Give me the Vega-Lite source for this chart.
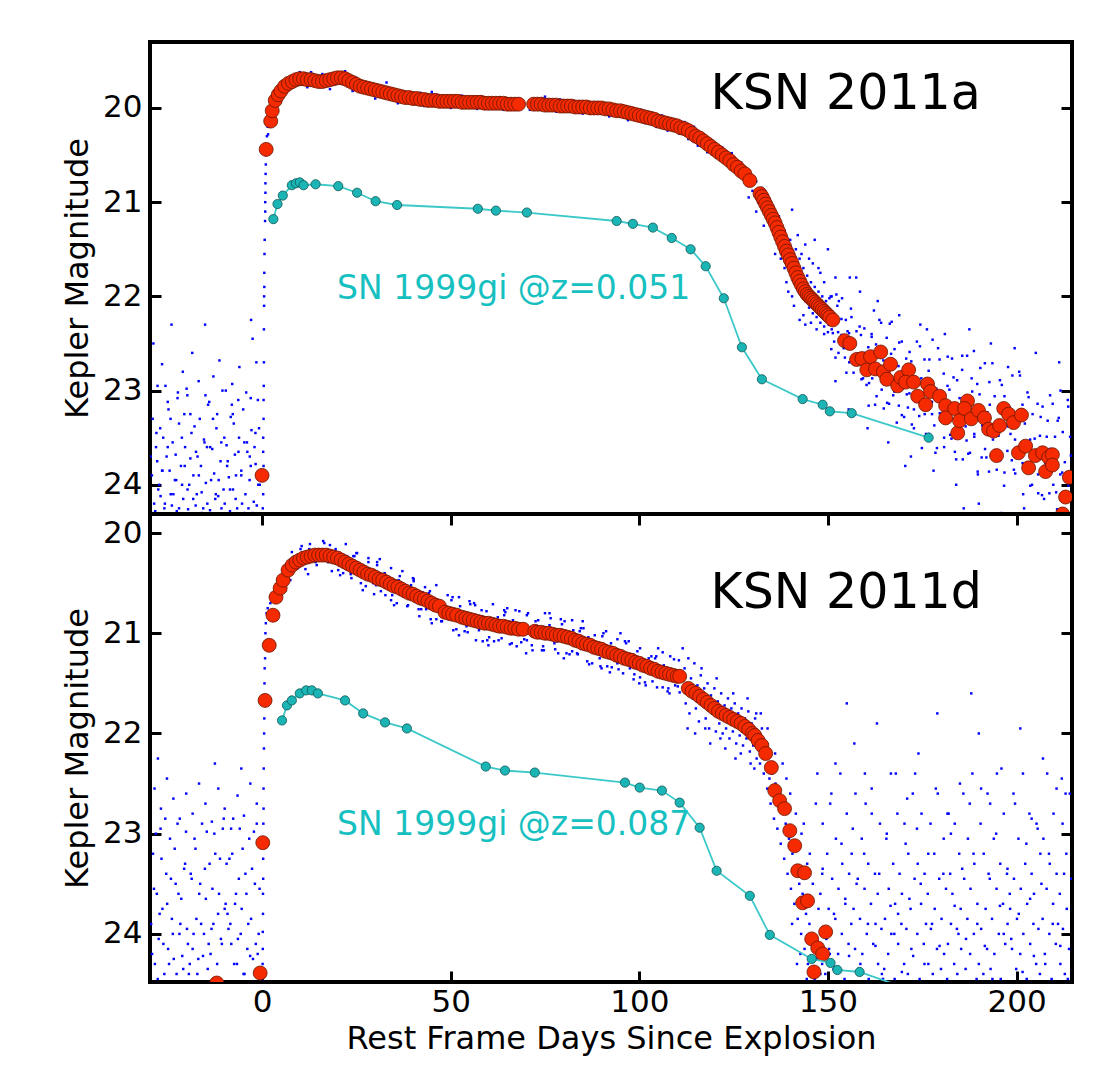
{
"$schema":"https://vega.github.io/schema/vega-lite/v6.json",
"padding":{"left":59,"top":40,"right":0,"bottom":0},
"background":"white",
"spacing":0,
"bounds":"flush",
"config":{"font":"DejaVu Sans","view":{"stroke":"black","strokeWidth":4},
"axis":{"grid":false,"domain":false,"tickColor":"black","tickWidth":3,"labelColor":"black","titleColor":"black","labelFontSize":31,"titleFontSize":32,"titleFontWeight":"normal","zindex":1,"labelFont":"DejaVu Sans","titleFont":"DejaVu Sans"}},
"datasets":{
"a_red":[{"d":0,"m":23.9},{"d":1.1,"m":20.44},{"d":2.3,"m":20.14},{"d":2.7,"m":20.03},{"d":3.5,"m":19.92},{"d":4.3,"m":19.86},{"d":5,"m":19.82},{"d":6,"m":19.77},{"d":7,"m":19.74},{"d":8,"m":19.72},{"d":9,"m":19.7},{"d":10,"m":19.69},{"d":11,"m":19.69},{"d":12,"m":19.7},{"d":13,"m":19.7},{"d":14,"m":19.71},{"d":15,"m":19.72},{"d":16,"m":19.72},{"d":17,"m":19.71},{"d":18,"m":19.7},{"d":19,"m":19.69},{"d":20,"m":19.68},{"d":21,"m":19.68},{"d":22,"m":19.69},{"d":23,"m":19.71},{"d":24,"m":19.73},{"d":25,"m":19.75},{"d":26,"m":19.77},{"d":27,"m":19.78},{"d":28,"m":19.79},{"d":29,"m":19.8},{"d":30,"m":19.81},{"d":31,"m":19.82},{"d":32,"m":19.83},{"d":33,"m":19.84},{"d":34,"m":19.85},{"d":35,"m":19.86},{"d":36,"m":19.87},{"d":37,"m":19.88},{"d":38,"m":19.89},{"d":39,"m":19.89},{"d":40,"m":19.9},{"d":41,"m":19.9},{"d":42,"m":19.91},{"d":43,"m":19.91},{"d":44,"m":19.92},{"d":45,"m":19.92},{"d":46,"m":19.92},{"d":47,"m":19.93},{"d":48,"m":19.93},{"d":49,"m":19.93},{"d":50,"m":19.93},{"d":51,"m":19.93},{"d":52,"m":19.93},{"d":53,"m":19.94},{"d":54,"m":19.94},{"d":55,"m":19.94},{"d":56,"m":19.94},{"d":57,"m":19.94},{"d":58,"m":19.94},{"d":59,"m":19.95},{"d":60,"m":19.95},{"d":61,"m":19.95},{"d":62,"m":19.95},{"d":63,"m":19.95},{"d":64,"m":19.95},{"d":65,"m":19.96},{"d":66,"m":19.96},{"d":67,"m":19.96},{"d":68,"m":19.96},{"d":72,"m":19.96},{"d":73,"m":19.96},{"d":74,"m":19.96},{"d":75,"m":19.97},{"d":76,"m":19.97},{"d":77,"m":19.97},{"d":78,"m":19.97},{"d":79,"m":19.98},{"d":80,"m":19.98},{"d":81,"m":19.98},{"d":82,"m":19.98},{"d":83,"m":19.99},{"d":84,"m":19.99},{"d":85,"m":19.99},{"d":86,"m":19.99},{"d":87,"m":20.0},{"d":88,"m":20.0},{"d":89,"m":20.0},{"d":90,"m":20.0},{"d":91,"m":20.01},{"d":92,"m":20.01},{"d":93,"m":20.02},{"d":94,"m":20.03},{"d":95,"m":20.03},{"d":96,"m":20.04},{"d":97,"m":20.05},{"d":98,"m":20.06},{"d":99,"m":20.07},{"d":100,"m":20.08},{"d":101,"m":20.09},{"d":102,"m":20.1},{"d":103,"m":20.11},{"d":104,"m":20.12},{"d":105,"m":20.14},{"d":106,"m":20.15},{"d":107,"m":20.16},{"d":108,"m":20.17},{"d":109,"m":20.18},{"d":110,"m":20.19},{"d":111,"m":20.21},{"d":112,"m":20.22},{"d":113,"m":20.24},{"d":114,"m":20.27},{"d":115,"m":20.3},{"d":116,"m":20.32},{"d":117,"m":20.35},{"d":118,"m":20.38},{"d":119,"m":20.41},{"d":120,"m":20.44},{"d":121,"m":20.47},{"d":122,"m":20.5},{"d":123,"m":20.53},{"d":124,"m":20.56},{"d":125,"m":20.6},{"d":126,"m":20.63},{"d":127,"m":20.67},{"d":128,"m":20.7},{"d":129.3,"m":20.77},{"d":132,"m":20.91},{"d":132.5,"m":20.94},{"d":133,"m":20.98},{"d":133.5,"m":21.02},{"d":134,"m":21.06},{"d":134.5,"m":21.1},{"d":135,"m":21.14},{"d":135.5,"m":21.18},{"d":136,"m":21.22},{"d":136.5,"m":21.27},{"d":137,"m":21.32},{"d":137.5,"m":21.37},{"d":138,"m":21.42},{"d":138.5,"m":21.47},{"d":139,"m":21.52},{"d":139.5,"m":21.56},{"d":140,"m":21.61},{"d":140.5,"m":21.65},{"d":141,"m":21.7},{"d":141.5,"m":21.75},{"d":142,"m":21.8},{"d":142.5,"m":21.84},{"d":143,"m":21.88},{"d":143.5,"m":21.92},{"d":144,"m":21.95},{"d":144.5,"m":21.98},{"d":145,"m":22.0},{"d":145.5,"m":22.02},{"d":146,"m":22.04},{"d":146.5,"m":22.06},{"d":147,"m":22.08},{"d":147.5,"m":22.1},{"d":148,"m":22.12},{"d":148.5,"m":22.14},{"d":149,"m":22.16},{"d":149.5,"m":22.18},{"d":150,"m":22.2},{"d":150.5,"m":22.22},{"d":151.3,"m":22.25},{"d":154.4,"m":22.47},{"d":155.8,"m":22.5},{"d":157.6,"m":22.67},{"d":159,"m":22.66},{"d":160.3,"m":22.78},{"d":161.3,"m":22.64},{"d":164,"m":22.59},{"d":162.6,"m":22.77},{"d":164.7,"m":22.8},{"d":166.6,"m":22.72},{"d":165.6,"m":22.88},{"d":168.5,"m":22.95},{"d":169.3,"m":22.86},{"d":171.4,"m":22.78},{"d":170.6,"m":22.91},{"d":172.7,"m":22.91},{"d":173.8,"m":23.06},{"d":176.4,"m":22.93},{"d":177.2,"m":23.01},{"d":175.9,"m":23.15},{"d":179.6,"m":23.06},{"d":181.2,"m":23.16},{"d":181.2,"m":23.29},{"d":183.6,"m":23.19},{"d":184.4,"m":23.45},{"d":184.9,"m":23.32},{"d":187,"m":23.11},{"d":186.2,"m":23.19},{"d":188,"m":23.3},{"d":189.9,"m":23.21},{"d":191.5,"m":23.29},{"d":192.6,"m":23.41},{"d":193.9,"m":23.43},{"d":194.7,"m":23.69},{"d":195.5,"m":23.37},{"d":196.6,"m":23.19},{"d":197.9,"m":23.25},{"d":199.2,"m":23.34},{"d":201.3,"m":23.26},{"d":200.5,"m":23.66},{"d":202.4,"m":23.59},{"d":203.2,"m":23.82},{"d":205,"m":23.69},{"d":206.9,"m":23.66},{"d":208.5,"m":23.71},{"d":209.5,"m":23.68},{"d":207.7,"m":23.86},{"d":209.5,"m":23.79},{"d":214,"m":23.92},{"d":213,"m":24.13},{"d":212.2,"m":24.31}],
"a_teal":[{"d":3.0,"m":21.18},{"d":4.1,"m":21.02},{"d":5.5,"m":20.93},{"d":7.9,"m":20.82},{"d":9.0,"m":20.8},{"d":10,"m":20.79},{"d":11,"m":20.82},{"d":14.2,"m":20.81},{"d":20.2,"m":20.83},{"d":25.2,"m":20.9},{"d":30.1,"m":20.99},{"d":35.8,"m":21.03},{"d":57.2,"m":21.07},{"d":62,"m":21.09},{"d":70.2,"m":21.11},{"d":94,"m":21.2},{"d":98.3,"m":21.23},{"d":103.6,"m":21.27},{"d":108.6,"m":21.38},{"d":113.6,"m":21.5},{"d":117.6,"m":21.68},{"d":122.4,"m":22.02},{"d":127.2,"m":22.54},{"d":132.5,"m":22.88},{"d":143.3,"m":23.09},{"d":148.6,"m":23.15},{"d":150.5,"m":23.22},{"d":156.3,"m":23.24},{"d":176.7,"m":23.5}],
"a_lab":[{"d":118.9,"m":20.01,"t":"KSN 2011a"}],
"a_sn":[{"d":19.9,"m":22.03,"t":"SN 1999gi @z=0.051"}],
"a_blue":[{"d":-29.2,"m":23.9},{"d":-28.6,"m":24.2},{"d":-28.1,"m":23.6},{"d":-27.5,"m":24.05},{"d":-27.0,"m":23.4},{"d":-26.4,"m":23.85},{"d":-25.9,"m":24.25},{"d":-25.3,"m":23.7},{"d":-24.8,"m":23.2},{"d":-24.2,"m":24.1},{"d":-23.7,"m":23.55},{"d":-23.1,"m":23.95},{"d":-22.6,"m":24.28},{"d":-22.0,"m":23.35},{"d":-21.5,"m":23.8},{"d":-20.9,"m":24.15},{"d":-20.4,"m":23.6},{"d":-19.8,"m":23.05},{"d":-19.3,"m":24.0},{"d":-18.7,"m":23.45},{"d":-18.2,"m":23.9},{"d":-17.6,"m":24.22},{"d":-17.1,"m":23.7},{"d":-16.5,"m":23.3},{"d":-16.0,"m":24.08},{"d":-15.4,"m":23.52},{"d":-14.9,"m":23.98},{"d":-14.3,"m":23.15},{"d":-13.8,"m":24.27},{"d":-13.2,"m":23.62},{"d":-12.7,"m":23.88},{"d":-12.1,"m":23.4},{"d":-11.6,"m":24.12},{"d":-11.0,"m":23.75},{"d":-10.5,"m":23.0},{"d":-9.9,"m":24.2},{"d":-9.4,"m":23.58},{"d":-8.8,"m":23.92},{"d":-8.3,"m":23.28},{"d":-7.7,"m":24.05},{"d":-7.2,"m":23.68},{"d":-6.6,"m":24.25},{"d":-6.1,"m":23.5},{"d":-5.5,"m":23.85},{"d":-5.0,"m":23.2},{"d":-4.4,"m":24.1},{"d":-3.9,"m":23.65},{"d":-3.3,"m":23.95},{"d":-2.8,"m":23.42},{"d":-2.2,"m":24.18},{"d":-1.7,"m":23.78},{"d":-1.1,"m":23.1},{"d":-0.6,"m":24.0},{"d":-29.0,"m":23.3},{"d":-28.3,"m":24.28},{"d":-27.8,"m":23.75},{"d":-26.9,"m":24.12},{"d":-26.2,"m":23.5},{"d":-25.6,"m":22.95},{"d":-24.5,"m":23.85},{"d":-23.9,"m":24.22},{"d":-22.9,"m":23.68},{"d":-22.3,"m":23.02},{"d":-21.2,"m":24.0},{"d":-20.6,"m":23.25},{"d":-19.6,"m":24.26},{"d":-19.0,"m":23.72},{"d":-17.9,"m":23.38},{"d":-17.3,"m":24.1},{"d":-16.2,"m":23.8},{"d":-15.6,"m":24.25},{"d":-14.6,"m":23.6},{"d":-13.5,"m":23.95},{"d":-12.4,"m":24.15},{"d":-11.9,"m":23.25},{"d":-10.8,"m":23.55},{"d":-10.2,"m":24.05},{"d":-9.1,"m":23.75},{"d":-8.5,"m":24.28},{"d":-7.5,"m":23.35},{"d":-6.9,"m":23.9},{"d":-6.3,"m":23.1},{"d":-5.3,"m":24.2},{"d":-4.7,"m":23.55},{"d":-3.6,"m":24.25},{"d":-3.0,"m":23.8},{"d":-2.0,"m":23.6},{"d":-1.4,"m":24.22},{"d":-0.8,"m":23.4},{"d":-28.8,"m":22.5},{"d":-27.7,"m":22.95},{"d":-26.5,"m":22.72},{"d":-24.0,"m":22.3},{"d":-22.4,"m":23.08},{"d":-21.0,"m":22.8},{"d":-18.5,"m":22.6},{"d":-16.8,"m":22.9},{"d":-15.0,"m":23.05},{"d":-12.9,"m":22.85},{"d":-11.3,"m":22.68},{"d":-9.6,"m":23.0},{"d":-7.9,"m":22.93},{"d":-6.0,"m":22.75},{"d":-4.2,"m":23.02},{"d":-2.5,"m":22.45},{"d":-1.5,"m":22.7},{"d":-25.0,"m":23.12},{"d":-20.0,"m":22.98},{"d":-14.0,"m":23.12},{"d":-8.0,"m":23.15},{"d":-3.0,"m":23.08},{"d":-15.1,"m":22.3},{"d":-2.9,"m":22.25},
{"d":-29.5,"m":23.7},{"d":-28.75,"m":24.3},{"d":-28.0,"m":23.45},{"d":-27.25,"m":24.0},{"d":-26.5,"m":23.85},{"d":-25.75,"m":24.2},{"d":-25.0,"m":23.6},{"d":-24.25,"m":23.3},{"d":-23.5,"m":24.1},{"d":-22.75,"m":23.95},{"d":-22.0,"m":24.25},{"d":-21.25,"m":23.5},{"d":-20.5,"m":23.8},{"d":-19.75,"m":24.05},{"d":-19.0,"m":23.25},{"d":-18.25,"m":24.15},{"d":-17.5,"m":23.65},{"d":-16.75,"m":23.9},{"d":-16.0,"m":24.3},{"d":-15.25,"m":23.55},{"d":-14.5,"m":24.2},{"d":-13.75,"m":23.6},{"d":-13.0,"m":23.3},{"d":-12.25,"m":24.1},{"d":-11.5,"m":23.95},{"d":-10.75,"m":24.25},{"d":-10.0,"m":23.5},{"d":-9.25,"m":23.8},{"d":-8.5,"m":24.05},{"d":-7.75,"m":23.25},{"d":-7.0,"m":24.15},{"d":-6.25,"m":23.65},{"d":-5.5,"m":23.9},{"d":-4.75,"m":24.3},{"d":-4.0,"m":23.55},{"d":-3.25,"m":23.7},{"d":-2.5,"m":24.3},{"d":-1.75,"m":23.45},{"d":-1.0,"m":24.0},{"d":-0.4,"m":23.85},
{"d":0.2,"m":24.25},{"d":0.3,"m":24.1},{"d":0.2,"m":23.95},{"d":0.4,"m":23.8},{"d":0.3,"m":23.65},{"d":0.3,"m":23.5},{"d":0.4,"m":23.3},{"d":0.4,"m":23.1},{"d":0.45,"m":22.95},{"d":0.5,"m":22.7},{"d":0.5,"m":22.35},{"d":0.55,"m":22.1},{"d":0.55,"m":22.0},{"d":0.6,"m":21.9},{"d":0.6,"m":21.75},{"d":0.65,"m":21.55},{"d":0.7,"m":21.4},{"d":0.8,"m":21.2},{"d":0.85,"m":21.1},{"d":0.85,"m":21.0},{"d":0.9,"m":20.9},{"d":0.9,"m":20.8},{"d":0.95,"m":20.7},{"d":1.0,"m":20.6},{"d":1.0,"m":20.5},{"d":1.1,"m":20.4},{"d":1.3,"m":20.3},{"d":1.5,"m":20.2},{"d":1.7,"m":20.12},{"d":1.6,"m":20.28},{"d":2,"m":20.2},{"d":2.5,"m":20.1},
{"d":10,"m":19.62},{"d":13,"m":19.62},{"d":16,"m":19.64},{"d":22,"m":19.61},{"d":25,"m":19.68},{"d":29,"m":19.75},{"d":33,"m":19.73},{"d":37,"m":19.82},{"d":42,"m":19.84},{"d":46,"m":19.86},{"d":53,"m":19.87},{"d":58,"m":19.88},{"d":63,"m":19.89},{"d":68,"m":19.9},{"d":74,"m":19.9},{"d":79,"m":19.91},{"d":84,"m":19.93},{"d":89,"m":19.95},{"d":94,"m":19.98},{"d":98,"m":20.0},{"d":5,"m":19.92},{"d":12,"m":19.78},{"d":18,"m":19.8},{"d":24,"m":19.82},{"d":30,"m":19.9},{"d":36,"m":19.95},{"d":43,"m":19.98},{"d":50,"m":20.0},{"d":57,"m":20.01},{"d":64,"m":20.02},{"d":71,"m":20.02},{"d":78,"m":20.04},{"d":85,"m":20.06},{"d":92,"m":20.09},{"d":97,"m":20.13},{"d":75,"m":19.88},{"d":45,"m":19.83},
{"d":100.5,"m":20.02},{"d":101.5,"m":20.16},{"d":103,"m":20.05},{"d":104.5,"m":20.2},{"d":106,"m":20.08},{"d":107.5,"m":20.24},{"d":109,"m":20.12},{"d":110.5,"m":20.27},{"d":112,"m":20.15},{"d":113,"m":20.33},{"d":114.5,"m":20.2},{"d":115.5,"m":20.4},{"d":117,"m":20.28},{"d":118,"m":20.47},{"d":119.5,"m":20.35},{"d":120.5,"m":20.53},{"d":122,"m":20.42},{"d":123,"m":20.6},{"d":124.5,"m":20.48},{"d":125.5,"m":20.68},{"d":127,"m":20.58},{"d":128,"m":20.78},{"d":129,"m":20.66},{"d":130,"m":20.88},{"d":131,"m":20.78},{"d":131.5,"m":21.0},{"d":132.5,"m":20.85},{"d":133.5,"m":21.13},{"d":134,"m":20.95},{"d":135,"m":21.25},{"d":135.5,"m":21.05},{"d":136.5,"m":21.35},{"d":137,"m":21.15},{"d":138,"m":21.48},{"d":138.5,"m":21.3},{"d":139.5,"m":21.62},{"d":140,"m":21.4},{"d":140.5,"m":21.08},{"d":141,"m":21.75},{"d":141.5,"m":21.5},{"d":142,"m":21.88},{"d":142.5,"m":21.6},{"d":143,"m":21.95},{"d":143.5,"m":21.7},{"d":144,"m":22.05},{"d":144.5,"m":21.78},{"d":145,"m":22.12},{"d":145.5,"m":21.85},{"d":146,"m":22.18},{"d":146.5,"m":21.9},{"d":147,"m":22.22},{"d":147.5,"m":21.95},{"d":148,"m":22.28},{"d":148.5,"m":22.0},{"d":149,"m":22.32},{"d":149.5,"m":22.05},{"d":150,"m":22.38},{"d":139,"m":21.85},{"d":141,"m":22.1},{"d":142.5,"m":22.25},{"d":144,"m":22.3},{"d":146,"m":21.65},{"d":148,"m":21.75},{"d":150,"m":21.5},{"d":152,"m":21.8},{"d":143,"m":21.55},{"d":145,"m":21.6},{"d":147.5,"m":21.7},{"d":139.5,"m":21.95},{"d":140.5,"m":22.0},{"d":143.5,"m":22.2},{"d":145.5,"m":22.28},{"d":147,"m":22.35},{"d":149,"m":22.4},{"d":151,"m":22.35},{"d":152.5,"m":22.1},{"d":144,"m":21.45},{"d":146.5,"m":21.4},{"d":136,"m":21.55},{"d":133,"m":21.25},{"d":131,"m":21.1},{"d":129,"m":20.95},{"d":155.8,"m":21.8},{"d":157.5,"m":21.8},{"d":151,"m":22.0},{"d":149,"m":21.85},{"d":142,"m":21.35},{"d":138.5,"m":21.7},{"d":137.5,"m":21.6},
{"d":150.2,"m":22.3},{"d":150.75,"m":22.0},{"d":150.9,"m":22.56},{"d":151.6,"m":22.23},{"d":151.65,"m":22.48},{"d":152.25,"m":21.98},{"d":152.7,"m":22.38},{"d":152.8,"m":22.6},{"d":153.58,"m":22.24},{"d":153.75,"m":22.02},{"d":154.2,"m":22.55},{"d":154.75,"m":22.25},{"d":154.9,"m":22.81},{"d":155.6,"m":22.39},{"d":155.65,"m":22.7},{"d":156.25,"m":22.22},{"d":156.7,"m":22.51},{"d":156.8,"m":22.81},{"d":157.58,"m":22.37},{"d":157.75,"m":22.65},{"d":158.2,"m":22.67},{"d":158.75,"m":22.41},{"d":158.9,"m":22.88},{"d":159.6,"m":22.61},{"d":159.65,"m":22.34},{"d":160.25,"m":22.94},{"d":160.7,"m":22.54},{"d":160.8,"m":23.16},{"d":161.58,"m":22.4},{"d":161.75,"m":22.87},{"d":162.2,"m":22.15},{"d":162.75,"m":22.51},{"d":162.9,"m":23.06},{"d":163.6,"m":22.79},{"d":163.65,"m":22.25},{"d":164.25,"m":22.99},{"d":164.7,"m":22.68},{"d":164.8,"m":23.19},{"d":165.58,"m":22.44},{"d":165.75,"m":22.9},{"d":166.2,"m":23.14},{"d":166.75,"m":22.61},{"d":166.9,"m":22.27},{"d":167.6,"m":23.01},{"d":167.65,"m":22.56},{"d":168.25,"m":23.34},{"d":168.7,"m":22.74},{"d":168.8,"m":23.16},{"d":169.58,"m":22.48},{"d":169.75,"m":22.89},{"d":170.2,"m":23.28},{"d":170.75,"m":22.66},{"d":170.9,"m":23.04},{"d":171.6,"m":23.03},{"d":171.65,"m":22.59},{"d":172.25,"m":23.36},{"d":172.7,"m":22.87},{"d":172.8,"m":23.2},{"d":173.58,"m":22.48},{"d":173.75,"m":23.04},{"d":174.2,"m":23.27},{"d":174.75,"m":22.87},{"d":174.9,"m":23.61},{"d":175.6,"m":22.67},{"d":175.65,"m":23.25},{"d":176.25,"m":22.35},{"d":176.7,"m":22.79},{"d":176.8,"m":23.46},{"d":177.58,"m":23.12},{"d":177.75,"m":22.46},{"d":178.2,"m":23.37},{"d":178.75,"m":22.98},{"d":178.9,"m":23.61},{"d":179.6,"m":22.67},{"d":179.65,"m":23.24},{"d":180.25,"m":23.27},{"d":180.7,"m":22.82},{"d":180.8,"m":23.6},{"d":181.58,"m":23.13},{"d":181.75,"m":22.64},{"d":182.2,"m":22.99},{"d":182.75,"m":23.51},{"d":182.9,"m":22.66},{"d":183.6,"m":23.16},{"d":183.65,"m":23.65},{"d":184.25,"m":22.89},{"d":184.7,"m":23.35},{"d":184.8,"m":23.33},{"d":185.58,"m":22.78},{"d":185.75,"m":23.73},{"d":186.2,"m":23.12},{"d":186.75,"m":23.53},{"d":186.9,"m":22.63},{"d":187.6,"m":23.3},{"d":187.65,"m":23.66},{"d":188.25,"m":23.01},{"d":188.7,"m":22.58},{"d":188.8,"m":23.49},{"d":189.58,"m":22.93},{"d":189.75,"m":23.89},{"d":190.2,"m":23.04},{"d":190.75,"m":23.71},{"d":190.9,"m":23.37},{"d":191.6,"m":22.71},{"d":191.65,"m":23.62},{"d":192.25,"m":23.23},{"d":192.7,"m":23.86},{"d":192.8,"m":22.91},{"d":193.58,"m":23.48},{"d":193.75,"m":23.52},{"d":194.2,"m":23.06},{"d":194.75,"m":23.84},{"d":194.9,"m":23.37},{"d":195.6,"m":22.89},{"d":195.65,"m":23.74},{"d":196.25,"m":23.24},{"d":196.7,"m":24.01},{"d":196.8,"m":23.06},{"d":197.58,"m":23.64},{"d":197.75,"m":22.75},{"d":198.2,"m":23.33},{"d":198.75,"m":23.74},{"d":198.9,"m":22.84},{"d":199.6,"m":23.52},{"d":199.65,"m":23.88},{"d":200.25,"m":23.22},{"d":200.7,"m":22.8},{"d":200.8,"m":23.71},{"d":201.58,"m":23.15},{"d":201.75,"m":24.1},{"d":202.2,"m":23.35},{"d":202.75,"m":23.87},{"d":202.9,"m":23.02},{"d":203.6,"m":23.52},{"d":203.65,"m":24.01},{"d":204.25,"m":23.25},{"d":204.7,"m":23.71},{"d":204.8,"m":23.69},{"d":205.58,"m":23.14},{"d":205.75,"m":24.09},{"d":206.2,"m":23.48},{"d":206.75,"m":24.11},{"d":206.9,"m":23.17},{"d":207.6,"m":23.73},{"d":207.65,"m":23.77},{"d":208.25,"m":23.32},{"d":208.7,"m":24.09},{"d":208.8,"m":23.62},{"d":209.58,"m":23.14},{"d":209.75,"m":24.0},{"d":210.2,"m":23.49},{"d":210.75,"m":24.26},{"d":210.9,"m":23.32},{"d":211.6,"m":23.89},{"d":211.65,"m":23.0},{"d":212.25,"m":23.44},{"d":212.7,"m":24.1},{"d":212.8,"m":23.76},{"d":213.58,"m":23.1},{"d":213.75,"m":24.01},{"d":214.2,"m":23.49},{"d":158.5,"m":21.95},{"d":163.2,"m":22.05},{"d":168.9,"m":22.2},{"d":174.5,"m":22.3},{"d":181.0,"m":22.4},{"d":187.5,"m":22.35},{"d":193.2,"m":22.5},{"d":199.5,"m":22.55},{"d":205.1,"m":22.6},{"d":211.3,"m":22.7},{"d":166,"m":23.55},{"d":172,"m":23.7},{"d":178,"m":23.85},{"d":184,"m":24.0},{"d":190,"m":24.2},{"d":186,"m":24.25},{"d":196,"m":24.3},{"d":202,"m":24.25},{"d":170.5,"m":23.8},{"d":160.5,"m":23.4},{"d":155.5,"m":23.2},{"d":152.0,"m":22.9},
{"d":150.4,"m":22.02},{"d":151.3,"m":22.39},{"d":152.0,"m":22.65},{"d":152.9,"m":22.05},{"d":153.6,"m":22.41},{"d":154.5,"m":22.65},{"d":155.2,"m":22.37},{"d":156.1,"m":22.13},{"d":156.8,"m":22.68},{"d":157.7,"m":22.61},{"d":158.4,"m":22.32},{"d":159.3,"m":22.87},{"d":160.0,"m":22.6},{"d":160.9,"m":22.92},{"d":161.6,"m":22.43},{"d":162.5,"m":23.15},{"d":163.2,"m":22.62},{"d":164.1,"m":22.28},{"d":164.8,"m":22.88},{"d":165.7,"m":23.13},{"d":166.4,"m":22.29},{"d":167.3,"m":23.05},{"d":168.0,"m":22.92},{"d":168.9,"m":22.49},{"d":169.6,"m":23.26},{"d":170.5,"m":22.86},{"d":171.2,"m":23.18},{"d":172.1,"m":22.69},{"d":172.8,"m":23.4},{"d":173.7,"m":22.87},{"d":174.4,"m":22.53},{"d":175.3,"m":23.16},{"d":176.0,"m":23.46},{"d":176.9,"m":22.67},{"d":177.6,"m":23.25},{"d":178.5,"m":23.66},{"d":179.2,"m":22.55},{"d":180.1,"m":23.13},{"d":180.8,"m":23.5},{"d":181.7,"m":22.95},{"d":182.4,"m":23.47},{"d":183.3,"m":22.86},{"d":184.0,"m":23.73},{"d":184.9,"m":23.08},{"d":185.6,"m":22.63},{"d":186.5,"m":23.38},{"d":187.2,"m":23.67},{"d":188.1,"m":22.87},{"d":188.8,"m":23.46},{"d":189.7,"m":23.86},{"d":190.4,"m":22.76},{"d":191.3,"m":23.33},{"d":192.0,"m":23.71},{"d":192.9,"m":23.15},{"d":193.6,"m":22.71},{"d":194.5,"m":23.64},{"d":195.2,"m":23.48},{"d":196.1,"m":22.94},{"d":196.8,"m":23.87},{"d":197.7,"m":23.38},{"d":198.4,"m":23.46},{"d":199.3,"m":23.84},{"d":200.0,"m":23.28},{"d":200.9,"m":22.84},{"d":201.6,"m":23.77},{"d":202.5,"m":23.61},{"d":203.2,"m":23.07},{"d":204.1,"m":24.0},{"d":204.8,"m":23.51},{"d":205.7,"m":23.89},{"d":206.4,"m":23.28},{"d":207.3,"m":24.15},{"d":208.0,"m":23.49},{"d":208.9,"m":23.05},{"d":209.6,"m":23.79},{"d":210.5,"m":24.08},{"d":211.2,"m":23.29},{"d":212.1,"m":23.87},{"d":212.8,"m":24.27},{"d":213.7,"m":23.17},{"d":214.4,"m":23.69}],
"d_red":[{"d":-12,"m":24.49},{"d":-0.5,"m":24.39},{"d":0.2,"m":23.09},{"d":0.8,"m":21.67},{"d":1.9,"m":21.12},{"d":2.9,"m":20.82},{"d":3.7,"m":20.64},{"d":4.8,"m":20.55},{"d":5.6,"m":20.47},{"d":6.9,"m":20.37},{"d":8,"m":20.32},{"d":9,"m":20.29},{"d":10,"m":20.27},{"d":11,"m":20.25},{"d":12,"m":20.24},{"d":13,"m":20.23},{"d":14,"m":20.22},{"d":15,"m":20.22},{"d":16,"m":20.22},{"d":17,"m":20.22},{"d":18,"m":20.23},{"d":19,"m":20.24},{"d":20,"m":20.25},{"d":21,"m":20.27},{"d":22,"m":20.29},{"d":23,"m":20.31},{"d":24,"m":20.33},{"d":25,"m":20.35},{"d":26,"m":20.37},{"d":27,"m":20.39},{"d":28,"m":20.41},{"d":29,"m":20.42},{"d":30,"m":20.44},{"d":31,"m":20.46},{"d":32,"m":20.47},{"d":33,"m":20.49},{"d":34,"m":20.51},{"d":35,"m":20.53},{"d":36,"m":20.54},{"d":37,"m":20.56},{"d":38,"m":20.58},{"d":39,"m":20.6},{"d":40,"m":20.61},{"d":41,"m":20.63},{"d":42,"m":20.65},{"d":43,"m":20.66},{"d":44,"m":20.68},{"d":45,"m":20.7},{"d":46,"m":20.72},{"d":47,"m":20.73},{"d":48.5,"m":20.79},{"d":49.5,"m":20.8},{"d":50.5,"m":20.81},{"d":51.6,"m":20.82},{"d":53,"m":20.84},{"d":54,"m":20.85},{"d":55,"m":20.86},{"d":56,"m":20.87},{"d":57,"m":20.88},{"d":58,"m":20.89},{"d":59,"m":20.9},{"d":60,"m":20.9},{"d":61,"m":20.91},{"d":62,"m":20.92},{"d":63,"m":20.93},{"d":64,"m":20.93},{"d":65,"m":20.94},{"d":66,"m":20.95},{"d":67,"m":20.95},{"d":68,"m":20.96},{"d":69.2,"m":20.96},{"d":72.3,"m":20.98},{"d":73,"m":20.99},{"d":74,"m":20.99},{"d":75,"m":21.0},{"d":76,"m":21.0},{"d":77,"m":21.01},{"d":78,"m":21.02},{"d":79,"m":21.02},{"d":80,"m":21.03},{"d":81,"m":21.04},{"d":82,"m":21.05},{"d":83,"m":21.07},{"d":84,"m":21.08},{"d":85,"m":21.1},{"d":86,"m":21.11},{"d":87,"m":21.12},{"d":88,"m":21.14},{"d":89,"m":21.15},{"d":90,"m":21.16},{"d":91,"m":21.18},{"d":92,"m":21.19},{"d":93,"m":21.2},{"d":94,"m":21.22},{"d":95,"m":21.23},{"d":96,"m":21.25},{"d":97,"m":21.26},{"d":98,"m":21.27},{"d":99,"m":21.29},{"d":100,"m":21.3},{"d":101,"m":21.32},{"d":102,"m":21.33},{"d":103,"m":21.35},{"d":104,"m":21.36},{"d":105,"m":21.38},{"d":106,"m":21.39},{"d":107,"m":21.4},{"d":108,"m":21.41},{"d":109,"m":21.42},{"d":110,"m":21.43},{"d":110.7,"m":21.43},{"d":113,"m":21.55},{"d":114,"m":21.58},{"d":115,"m":21.6},{"d":116,"m":21.63},{"d":117,"m":21.66},{"d":118,"m":21.69},{"d":119,"m":21.72},{"d":120,"m":21.75},{"d":121,"m":21.78},{"d":122,"m":21.8},{"d":123,"m":21.82},{"d":124,"m":21.84},{"d":125,"m":21.86},{"d":126,"m":21.88},{"d":127,"m":21.9},{"d":128,"m":21.93},{"d":129,"m":21.96},{"d":130,"m":22.0},{"d":130.6,"m":22.02},{"d":131.5,"m":22.07},{"d":132.5,"m":22.12},{"d":133.5,"m":22.2},{"d":135,"m":22.34},{"d":135.9,"m":22.57},{"d":137.2,"m":22.67},{"d":138.5,"m":22.75},{"d":139.9,"m":22.97},{"d":141.2,"m":23.12},{"d":142,"m":23.37},{"d":143.8,"m":23.39},{"d":143.3,"m":23.69},{"d":144.6,"m":23.67},{"d":145.7,"m":24.05},{"d":147.3,"m":24.14},{"d":148.6,"m":24.2},{"d":149.4,"m":23.98},{"d":146.3,"m":24.38}],
"d_teal":[{"d":5.3,"m":21.87},{"d":6.6,"m":21.72},{"d":7.9,"m":21.67},{"d":10,"m":21.6},{"d":11.7,"m":21.57},{"d":13.2,"m":21.57},{"d":14.8,"m":21.6},{"d":22,"m":21.67},{"d":26.8,"m":21.8},{"d":32.6,"m":21.89},{"d":38.4,"m":21.95},{"d":59.3,"m":22.33},{"d":64.4,"m":22.37},{"d":72.3,"m":22.39},{"d":96.2,"m":22.49},{"d":100.1,"m":22.54},{"d":106,"m":22.57},{"d":110.7,"m":22.69},{"d":116,"m":22.94},{"d":120.5,"m":23.37},{"d":129.3,"m":23.62},{"d":134.6,"m":24.01},{"d":145.7,"m":24.25},{"d":150.7,"m":24.29},{"d":152.5,"m":24.36},{"d":158.4,"m":24.38},{"d":176.7,"m":24.62}],
"d_lab":[{"d":118.9,"m":20.75,"t":"KSN 2011d"}],
"d_sn":[{"d":19.9,"m":23.01,"t":"SN 1999gi @z=0.087"}],
"d_blue":[{"d":-29.4,"m":23.9},{"d":-28.9,"m":23.2},{"d":-28.4,"m":24.3},{"d":-27.9,"m":23.6},{"d":-27.4,"m":24.05},{"d":-26.9,"m":22.95},{"d":-26.4,"m":23.75},{"d":-25.9,"m":24.4},{"d":-25.4,"m":23.4},{"d":-24.9,"m":24.15},{"d":-24.4,"m":23.05},{"d":-23.9,"m":23.85},{"d":-23.4,"m":24.25},{"d":-22.9,"m":23.5},{"d":-22.4,"m":22.9},{"d":-21.9,"m":24.0},{"d":-21.4,"m":23.65},{"d":-20.9,"m":24.35},{"d":-20.4,"m":23.3},{"d":-19.9,"m":23.95},{"d":-19.4,"m":24.4},{"d":-18.9,"m":23.4},{"d":-18.4,"m":24.15},{"d":-17.9,"m":23.05},{"d":-17.4,"m":23.85},{"d":-16.9,"m":24.25},{"d":-16.4,"m":23.5},{"d":-15.9,"m":22.9},{"d":-15.4,"m":24.0},{"d":-14.9,"m":23.65},{"d":-14.4,"m":24.35},{"d":-13.9,"m":23.3},{"d":-13.4,"m":23.95},{"d":-12.9,"m":23.9},{"d":-12.4,"m":23.2},{"d":-11.9,"m":24.3},{"d":-11.4,"m":23.6},{"d":-10.9,"m":24.05},{"d":-10.4,"m":22.95},{"d":-9.9,"m":23.75},{"d":-9.4,"m":23.3},{"d":-8.9,"m":23.95},{"d":-8.4,"m":23.9},{"d":-7.9,"m":23.2},{"d":-7.4,"m":24.3},{"d":-6.9,"m":23.6},{"d":-6.4,"m":24.05},{"d":-5.9,"m":22.95},{"d":-5.4,"m":23.75},{"d":-4.9,"m":24.4},{"d":-4.4,"m":23.4},{"d":-3.9,"m":24.15},{"d":-3.4,"m":23.05},{"d":-2.9,"m":23.85},{"d":-2.4,"m":24.25},{"d":-1.9,"m":23.5},{"d":-1.4,"m":22.9},{"d":-0.9,"m":24.0},{"d":-29.15,"m":24.2},{"d":-28.65,"m":23.55},{"d":-28.15,"m":23.0},{"d":-27.65,"m":24.45},{"d":-27.15,"m":23.8},{"d":-26.65,"m":23.25},{"d":-26.15,"m":24.1},{"d":-25.65,"m":22.85},{"d":-25.15,"m":23.7},{"d":-24.65,"m":24.3},{"d":-24.15,"m":23.45},{"d":-23.65,"m":24.0},{"d":-23.15,"m":23.15},{"d":-22.65,"m":24.4},{"d":-22.15,"m":23.6},{"d":-21.65,"m":23.9},{"d":-21.15,"m":24.22},{"d":-20.65,"m":23.35},{"d":-20.15,"m":22.98},{"d":-19.65,"m":24.1},{"d":-19.15,"m":24.3},{"d":-18.65,"m":23.45},{"d":-18.15,"m":24.0},{"d":-17.65,"m":23.15},{"d":-17.15,"m":24.4},{"d":-16.65,"m":23.6},{"d":-16.15,"m":23.9},{"d":-15.65,"m":24.22},{"d":-15.15,"m":23.35},{"d":-14.65,"m":22.98},{"d":-14.15,"m":24.1},{"d":-13.65,"m":24.2},{"d":-13.15,"m":23.55},{"d":-12.65,"m":23.0},{"d":-12.15,"m":24.45},{"d":-11.65,"m":23.8},{"d":-11.15,"m":23.25},{"d":-10.65,"m":24.1},{"d":-10.15,"m":22.85},{"d":-9.65,"m":23.7},{"d":-9.15,"m":23.8},{"d":-8.65,"m":23.25},{"d":-8.15,"m":24.1},{"d":-7.65,"m":22.85},{"d":-7.15,"m":23.7},{"d":-6.65,"m":24.3},{"d":-6.15,"m":23.45},{"d":-5.65,"m":24.0},{"d":-5.15,"m":23.15},{"d":-4.65,"m":24.4},{"d":-4.15,"m":23.6},{"d":-3.65,"m":23.9},{"d":-3.15,"m":24.22},{"d":-2.65,"m":23.35},{"d":-2.15,"m":22.98},{"d":-1.65,"m":24.1},{"d":-1.15,"m":24.2},{"d":-0.65,"m":23.55},{"d":-28.5,"m":22.55},{"d":-26.8,"m":22.75},{"d":-25.2,"m":22.45},{"d":-23.5,"m":22.65},{"d":-21.8,"m":22.85},{"d":-20.1,"m":22.6},{"d":-18.4,"m":22.8},{"d":-16.7,"m":22.5},{"d":-15.0,"m":22.7},{"d":-13.3,"m":22.88},{"d":-11.6,"m":22.55},{"d":-9.9,"m":22.75},{"d":-8.2,"m":22.95},{"d":-6.5,"m":22.62},{"d":-4.8,"m":22.82},{"d":-3.1,"m":22.5},{"d":-1.4,"m":22.7},{"d":-27.6,"m":22.25},{"d":-12.5,"m":22.3},{"d":-5.5,"m":22.35},
{"d":0.1,"m":24.45},{"d":0.15,"m":24.3},{"d":0.2,"m":24.15},{"d":0.2,"m":23.98},{"d":0.25,"m":23.8},{"d":0.25,"m":23.6},{"d":0.3,"m":23.45},{"d":0.3,"m":23.25},{"d":0.35,"m":22.9},{"d":0.4,"m":22.75},{"d":0.4,"m":22.55},{"d":0.45,"m":22.35},{"d":0.5,"m":22.15},{"d":0.55,"m":22.0},{"d":0.6,"m":21.85},{"d":0.65,"m":21.5},{"d":0.7,"m":21.35},{"d":0.8,"m":21.25},{"d":0.9,"m":21.0},{"d":1.0,"m":20.9},{"d":1.2,"m":20.8},{"d":1.5,"m":20.75},{"d":2.2,"m":20.7},
{"d":3.5,"m":20.8},{"d":4.5,"m":20.46},{"d":5.5,"m":20.52},{"d":6.5,"m":20.35},{"d":7.5,"m":20.47},{"d":8.5,"m":20.29},{"d":9.5,"m":20.35},{"d":10.5,"m":20.13},{"d":11.5,"m":20.36},{"d":12.5,"m":20.16},{"d":13.5,"m":20.25},{"d":14.5,"m":20.32},{"d":15.5,"m":20.18},{"d":16.5,"m":20.1},{"d":17.5,"m":20.29},{"d":18.5,"m":20.38},{"d":19.5,"m":20.16},{"d":20.5,"m":20.26},{"d":21.5,"m":20.4},{"d":22.5,"m":20.23},{"d":23.5,"m":20.41},{"d":24.5,"m":20.23},{"d":25.5,"m":20.4},{"d":26.5,"m":20.32},{"d":27.5,"m":20.53},{"d":28.5,"m":20.4},{"d":29.5,"m":20.5},{"d":30.5,"m":20.32},{"d":31.5,"m":20.58},{"d":32.5,"m":20.4},{"d":33.5,"m":20.52},{"d":34.5,"m":20.62},{"d":35.5,"m":20.5},{"d":36.5,"m":20.43},{"d":37.5,"m":20.63},{"d":38.5,"m":20.73},{"d":39.5,"m":20.52},{"d":40.5,"m":20.62},{"d":41.5,"m":20.76},{"d":42.5,"m":20.59},{"d":43.5,"m":20.76},{"d":44.5,"m":20.58},{"d":45.5,"m":20.75},{"d":46.5,"m":20.67},{"d":47.5,"m":20.88},{"d":48.5,"m":20.75},{"d":49.5,"m":20.86},{"d":50.5,"m":20.64},{"d":51.5,"m":20.96},{"d":52.5,"m":20.73},{"d":53.5,"m":20.87},{"d":54.5,"m":20.99},{"d":55.5,"m":20.82},{"d":56.5,"m":20.72},{"d":57.5,"m":20.97},{"d":58.5,"m":21.08},{"d":59.5,"m":20.78},{"d":60.5,"m":20.91},{"d":61.5,"m":21.08},{"d":62.5,"m":20.84},{"d":63.5,"m":21.05},{"d":64.5,"m":20.79},{"d":65.5,"m":21.0},{"d":66.5,"m":20.87},{"d":67.5,"m":21.13},{"d":68.5,"m":20.93},{"d":69.5,"m":21.06},{"d":70.5,"m":20.8},{"d":71.5,"m":21.12},{"d":72.5,"m":20.88},{"d":73.5,"m":21.02},{"d":74.5,"m":21.13},{"d":75.5,"m":20.95},{"d":76.5,"m":20.85},{"d":77.5,"m":21.1},{"d":78.5,"m":21.2},{"d":79.5,"m":20.91},{"d":80.5,"m":21.04},{"d":81.5,"m":21.21},{"d":82.5,"m":20.97},{"d":83.5,"m":21.2},{"d":84.5,"m":20.95},{"d":85.5,"m":21.16},{"d":86.5,"m":21.04},{"d":87.5,"m":21.3},{"d":88.5,"m":21.12},{"d":89.5,"m":21.25},{"d":90.5,"m":21.0},{"d":91.5,"m":21.33},{"d":92.5,"m":21.1},{"d":93.5,"m":21.24},{"d":94.5,"m":21.36},{"d":95.5,"m":21.19},{"d":96.5,"m":21.1},{"d":97.5,"m":21.35},{"d":98.5,"m":21.46},{"d":99.5,"m":21.18},{"d":100.5,"m":21.31},{"d":101.5,"m":21.49},{"d":102.5,"m":21.25},{"d":103.5,"m":21.48},{"d":104.5,"m":21.23},{"d":105.5,"m":21.44},{"d":106.5,"m":21.32},{"d":107.5,"m":21.58},{"d":108.5,"m":21.39},{"d":109.5,"m":21.52},{"d":110.5,"m":21.27},
{"d":4.2,"m":20.52},{"d":6.2,"m":20.57},{"d":8.2,"m":20.31},{"d":10.2,"m":20.16},{"d":12.2,"m":20.41},{"d":14.2,"m":20.29},{"d":16.2,"m":20.08},{"d":18.2,"m":20.18},{"d":20.2,"m":20.37},{"d":22.2,"m":20.31},{"d":24.2,"m":20.23},{"d":26.2,"m":20.5},{"d":28.2,"m":20.25},{"d":30.2,"m":20.52},{"d":32.2,"m":20.45},{"d":34.2,"m":20.67},{"d":36.2,"m":20.47},{"d":38.2,"m":20.63},{"d":40.2,"m":20.48},{"d":42.2,"m":20.76},{"d":44.2,"m":20.6},{"d":46.2,"m":20.86},{"d":48.2,"m":20.76},{"d":50.2,"m":20.67},{"d":52.2,"m":21.02},{"d":54.2,"m":20.93},{"d":56.2,"m":20.7},{"d":58.2,"m":20.83},{"d":60.2,"m":21.04},{"d":62.2,"m":20.95},{"d":64.2,"m":20.82},{"d":66.2,"m":21.1},{"d":68.2,"m":20.78},{"d":70.2,"m":21.07},{"d":72.2,"m":20.95},{"d":74.2,"m":21.17},{"d":76.2,"m":20.92},{"d":78.2,"m":21.08},{"d":80.2,"m":20.88},{"d":82.2,"m":21.18},{"d":84.2,"m":20.98},{"d":86.2,"m":21.28},{"d":88.2,"m":21.14},{"d":90.2,"m":21.03},{"d":92.2,"m":21.39},{"d":94.2,"m":21.3},{"d":96.2,"m":21.08},{"d":98.2,"m":21.21},{"d":100.2,"m":21.44},{"d":102.2,"m":21.36},{"d":104.2,"m":21.25},{"d":106.2,"m":21.54},{"d":108.2,"m":21.23},{"d":110.2,"m":21.53},
{"d":20.7,"m":20.42},{"d":22.2,"m":20.11},{"d":23.7,"m":20.45},{"d":25.2,"m":20.2},{"d":26.7,"m":20.57},{"d":28.2,"m":20.29},{"d":29.7,"m":20.61},{"d":31.2,"m":20.26},{"d":32.7,"m":20.62},{"d":34.2,"m":20.35},{"d":35.7,"m":20.7},{"d":37.2,"m":20.38},{"d":38.7,"m":20.72},{"d":40.2,"m":20.46},{"d":41.7,"m":20.83},{"d":43.2,"m":20.54},{"d":44.7,"m":20.86},{"d":46.2,"m":20.52},{"d":47.7,"m":20.88},{"d":49.2,"m":20.62},{"d":50.7,"m":20.97},{"d":52.2,"m":20.64},{"d":53.7,"m":20.98},{"d":55.2,"m":20.71},{"d":56.7,"m":21.07},{"d":58.2,"m":20.77},{"d":59.7,"m":21.07},{"d":61.2,"m":20.71},{"d":62.7,"m":21.07},{"d":64.2,"m":20.77},{"d":65.7,"m":21.11},{"d":67.2,"m":20.77},{"d":68.7,"m":21.09},{"d":70.2,"m":20.82},{"d":71.7,"m":21.17},{"d":73.2,"m":20.87},{"d":74.7,"m":21.17},{"d":76.2,"m":20.8},{"d":77.7,"m":21.16},{"d":79.2,"m":20.86},{"d":80.7,"m":21.2},{"d":82.2,"m":20.87},{"d":83.7,"m":21.21},{"d":85.2,"m":20.95},{"d":86.7,"m":21.31},{"d":88.2,"m":21.02},{"d":89.7,"m":21.33},{"d":91.2,"m":20.98},{"d":92.7,"m":21.34},{"d":94.2,"m":21.06},{"d":95.7,"m":21.4},{"d":97.2,"m":21.08},{"d":98.7,"m":21.41},{"d":100.2,"m":21.15},{"d":101.7,"m":21.52},{"d":103.2,"m":21.23},{"d":104.7,"m":21.54},{"d":106.2,"m":21.19},{"d":107.7,"m":21.55},{"d":109.2,"m":21.26},{"d":110.7,"m":21.59},
{"d":12.7,"m":20.11},{"d":7.9,"m":20.19},{"d":30.5,"m":20.29},{"d":18,"m":20.12},{"d":25,"m":20.2},{"d":40,"m":20.45},{"d":55,"m":20.68},{"d":65,"m":20.75},{"d":75,"m":20.8},{"d":85,"m":20.88},{"d":95,"m":21.0},{"d":105,"m":21.15},{"d":35,"m":20.72},{"d":45,"m":20.9},{"d":60,"m":21.12},{"d":70,"m":21.2},{"d":80,"m":21.25},{"d":90,"m":21.35},{"d":100,"m":21.5},{"d":108,"m":21.6},
{"d":111.5,"m":21.15},{"d":112,"m":21.35},{"d":112.3,"m":21.7},{"d":112.6,"m":21.5},{"d":113,"m":21.25},{"d":113.3,"m":21.8},{"d":113.7,"m":21.45},{"d":114.2,"m":21.65},{"d":114.6,"m":21.3},{"d":115,"m":21.75},{"d":115.4,"m":21.52},{"d":115.8,"m":21.88},{"d":116.3,"m":21.42},{"d":116.7,"m":21.7},{"d":117.2,"m":21.55},{"d":117.6,"m":21.85},{"d":118.1,"m":21.5},{"d":118.5,"m":21.95},{"d":119,"m":21.62},{"d":119.4,"m":21.8},{"d":119.9,"m":21.55},{"d":120.3,"m":21.98},{"d":120.8,"m":21.68},{"d":121.2,"m":21.9},{"d":121.7,"m":21.6},{"d":122.1,"m":22.0},{"d":122.6,"m":21.72},{"d":123,"m":21.95},{"d":123.5,"m":21.65},{"d":123.9,"m":22.05},{"d":124.4,"m":21.75},{"d":124.8,"m":21.98},{"d":125.3,"m":21.7},{"d":125.7,"m":22.1},{"d":126.2,"m":21.8},{"d":126.6,"m":22.02},{"d":127.1,"m":21.75},{"d":127.5,"m":22.12},{"d":128,"m":21.85},{"d":128.4,"m":22.05},{"d":128.9,"m":21.78},{"d":129.3,"m":22.18},{"d":129.8,"m":21.9},{"d":130.2,"m":22.12},{"d":130.7,"m":21.85},{"d":131.1,"m":22.25},{"d":131.6,"m":22.0},{"d":132,"m":22.3},{"d":132.5,"m":21.95},{"d":133,"m":22.4},{"d":133.4,"m":22.1},{"d":133.9,"m":22.55},{"d":134.3,"m":22.2},{"d":134.8,"m":22.7},{"d":135.2,"m":22.4},{"d":135.7,"m":22.85},{"d":136.1,"m":22.5},{"d":136.6,"m":22.95},{"d":137,"m":22.6},{"d":137.5,"m":23.1},{"d":137.9,"m":22.75},{"d":138.4,"m":23.25},{"d":138.8,"m":22.9},{"d":139.3,"m":23.4},{"d":139.7,"m":23.05},{"d":140.2,"m":23.55},{"d":140.6,"m":23.2},{"d":141.1,"m":23.7},{"d":141.5,"m":23.35},{"d":142,"m":23.85},{"d":142.4,"m":23.5},{"d":142.9,"m":24.0},{"d":143.3,"m":23.6},{"d":143.8,"m":24.15},{"d":144.2,"m":23.8},{"d":144.7,"m":24.3},{"d":145.1,"m":23.9},{"d":145.6,"m":24.4},{"d":146,"m":24.1},{"d":146.5,"m":24.45},{"d":147,"m":24.25},{"d":148,"m":24.4},{"d":138,"m":22.3},{"d":140,"m":22.6},{"d":141.5,"m":22.8},{"d":143,"m":23.0},{"d":144.5,"m":23.3},{"d":146,"m":23.5},{"d":147.5,"m":23.75},{"d":149,"m":24.0},{"d":150.5,"m":24.2},{"d":136,"m":22.2},{"d":139,"m":22.45},{"d":134,"m":21.95},{"d":131,"m":21.8},
{"d":112.8,"m":21.95},{"d":114.8,"m":22.0},{"d":116.5,"m":21.35},{"d":118.8,"m":22.1},{"d":120.5,"m":21.45},{"d":122.8,"m":22.15},{"d":124.9,"m":21.6},{"d":126.9,"m":22.2},{"d":128.7,"m":21.65},{"d":130.5,"m":22.35},{"d":132.2,"m":21.8},{"d":134.5,"m":22.45},{"d":117.5,"m":21.95},{"d":121.5,"m":22.05},{"d":125.5,"m":22.25},{"d":129.5,"m":22.3},
{"d":148.0,"m":23.6},{"d":148.47,"m":24.3},{"d":148.62,"m":22.9},{"d":149.2,"m":23.95},{"d":149.3,"m":24.4},{"d":149.8,"m":23.2},{"d":150.19,"m":23.75},{"d":150.31,"m":24.15},{"d":150.91,"m":22.6},{"d":151.12,"m":23.45},{"d":151.5,"m":24.35},{"d":151.97,"m":23.85},{"d":152.12,"m":23.05},{"d":152.7,"m":24.2},{"d":152.8,"m":23.55},{"d":153.3,"m":22.4},{"d":153.69,"m":24.0},{"d":153.81,"m":23.3},{"d":154.41,"m":24.45},{"d":154.62,"m":23.7},{"d":155.0,"m":22.8},{"d":155.47,"m":24.1},{"d":155.62,"m":23.4},{"d":156.2,"m":23.9},{"d":156.3,"m":23.2},{"d":156.8,"m":23.75},{"d":157.19,"m":24.15},{"d":157.31,"m":22.6},{"d":157.91,"m":23.45},{"d":158.12,"m":24.35},{"d":158.5,"m":23.85},{"d":158.97,"m":23.05},{"d":159.12,"m":24.2},{"d":159.7,"m":23.55},{"d":159.8,"m":22.4},{"d":160.3,"m":24.0},{"d":160.69,"m":23.3},{"d":160.81,"m":24.45},{"d":161.41,"m":23.7},{"d":161.62,"m":22.8},{"d":162.0,"m":24.1},{"d":162.47,"m":23.4},{"d":162.62,"m":23.9},{"d":163.2,"m":23.6},{"d":163.3,"m":24.3},{"d":163.8,"m":22.9},{"d":164.19,"m":23.95},{"d":164.31,"m":24.4},{"d":164.91,"m":24.35},{"d":165.12,"m":23.85},{"d":165.5,"m":23.05},{"d":165.97,"m":24.2},{"d":166.12,"m":23.55},{"d":166.7,"m":22.4},{"d":166.8,"m":24.0},{"d":167.3,"m":23.3},{"d":167.69,"m":24.45},{"d":167.81,"m":23.7},{"d":168.41,"m":22.8},{"d":168.62,"m":24.1},{"d":169.0,"m":23.4},{"d":169.47,"m":23.9},{"d":169.62,"m":23.6},{"d":170.2,"m":24.3},{"d":170.3,"m":22.9},{"d":170.8,"m":23.95},{"d":171.19,"m":24.4},{"d":171.31,"m":23.2},{"d":171.91,"m":23.75},{"d":172.12,"m":24.15},{"d":172.5,"m":22.6},{"d":172.97,"m":23.45},{"d":173.12,"m":22.4},{"d":173.7,"m":24.0},{"d":173.8,"m":23.3},{"d":174.3,"m":24.45},{"d":174.69,"m":23.7},{"d":174.81,"m":22.8},{"d":175.41,"m":24.1},{"d":175.62,"m":23.4},{"d":176.0,"m":23.9},{"d":176.47,"m":23.6},{"d":176.62,"m":24.3},{"d":177.2,"m":22.9},{"d":177.3,"m":23.95},{"d":177.8,"m":24.4},{"d":178.19,"m":23.2},{"d":178.31,"m":23.75},{"d":178.91,"m":24.15},{"d":179.12,"m":22.6},{"d":179.5,"m":23.45},{"d":179.97,"m":24.35},{"d":180.12,"m":23.85},{"d":180.7,"m":23.05},{"d":180.8,"m":24.2},{"d":181.3,"m":23.55},{"d":181.69,"m":22.8},{"d":181.81,"m":24.1},{"d":182.41,"m":23.4},{"d":182.62,"m":23.9},{"d":183.0,"m":23.6},{"d":183.47,"m":24.3},{"d":183.62,"m":22.9},{"d":184.2,"m":23.95},{"d":184.3,"m":24.4},{"d":184.8,"m":23.2},{"d":185.19,"m":23.75},{"d":185.31,"m":24.15},{"d":185.91,"m":22.6},{"d":186.12,"m":23.45},{"d":186.5,"m":24.35},{"d":186.97,"m":23.85},{"d":187.12,"m":23.05},{"d":187.7,"m":24.2},{"d":187.8,"m":23.55},{"d":188.3,"m":22.4},{"d":188.69,"m":24.0},{"d":188.81,"m":23.3},{"d":189.41,"m":24.45},{"d":189.62,"m":23.7},{"d":190.0,"m":24.3},{"d":190.47,"m":22.9},{"d":190.62,"m":23.95},{"d":191.2,"m":24.4},{"d":191.3,"m":23.2},{"d":191.8,"m":23.75},{"d":192.19,"m":24.15},{"d":192.31,"m":22.6},{"d":192.91,"m":23.45},{"d":193.12,"m":24.35},{"d":193.5,"m":23.85},{"d":193.97,"m":23.05},{"d":194.12,"m":24.2},{"d":194.7,"m":23.55},{"d":194.8,"m":22.4},{"d":195.3,"m":24.0},{"d":195.69,"m":23.3},{"d":195.81,"m":24.45},{"d":196.41,"m":23.7},{"d":196.62,"m":22.8},{"d":197.0,"m":24.1},{"d":197.47,"m":23.4},{"d":197.62,"m":23.9},{"d":198.2,"m":23.6},{"d":198.3,"m":23.75},{"d":198.8,"m":24.15},{"d":199.19,"m":22.6},{"d":199.31,"m":23.45},{"d":199.91,"m":24.35},{"d":200.12,"m":23.85},{"d":200.5,"m":23.05},{"d":200.97,"m":24.2},{"d":201.12,"m":23.55},{"d":201.7,"m":22.4},{"d":201.8,"m":24.0},{"d":202.3,"m":23.3},{"d":202.69,"m":24.45},{"d":202.81,"m":23.7},{"d":203.41,"m":22.8},{"d":203.62,"m":24.1},{"d":204.0,"m":23.4},{"d":204.47,"m":23.9},{"d":204.62,"m":23.6},{"d":205.2,"m":24.3},{"d":205.3,"m":22.9},{"d":205.8,"m":23.95},{"d":206.19,"m":24.4},{"d":206.31,"m":23.2},{"d":206.91,"m":23.85},{"d":207.12,"m":23.05},{"d":207.5,"m":24.2},{"d":207.97,"m":23.55},{"d":208.12,"m":22.4},{"d":208.7,"m":24.0},{"d":208.8,"m":23.3},{"d":209.3,"m":24.45},{"d":209.69,"m":23.7},{"d":209.81,"m":22.8},{"d":210.41,"m":24.1},{"d":210.62,"m":23.4},{"d":211.0,"m":23.9},{"d":211.47,"m":23.6},{"d":211.62,"m":24.3},{"d":212.2,"m":22.9},{"d":212.3,"m":23.95},{"d":212.8,"m":24.4},{"d":213.19,"m":23.2},{"d":213.31,"m":23.75},{"d":213.91,"m":24.15},{"d":214.12,"m":22.6},{"d":214.5,"m":23.45},
{"d":148.6,"m":23.35},{"d":149.6,"m":24.05},{"d":150.6,"m":22.7},{"d":151.6,"m":23.8},{"d":152.6,"m":24.38},{"d":153.6,"m":23.1},{"d":154.6,"m":23.65},{"d":155.6,"m":24.22},{"d":156.6,"m":22.95},{"d":157.6,"m":23.5},{"d":158.6,"m":24.3},{"d":159.6,"m":23.2},{"d":160.6,"m":23.9},{"d":161.6,"m":22.55},{"d":162.6,"m":24.12},{"d":163.6,"m":23.4},{"d":164.6,"m":24.45},{"d":165.6,"m":23.0},{"d":166.6,"m":23.72},{"d":167.6,"m":24.0},{"d":168.6,"m":23.8},{"d":169.6,"m":24.38},{"d":170.6,"m":23.1},{"d":171.6,"m":23.65},{"d":172.6,"m":24.22},{"d":173.6,"m":22.95},{"d":174.6,"m":23.5},{"d":175.6,"m":24.3},{"d":176.6,"m":23.2},{"d":177.6,"m":23.9},{"d":178.6,"m":22.55},{"d":179.6,"m":24.12},{"d":180.6,"m":23.4},{"d":181.6,"m":24.45},{"d":182.6,"m":23.0},{"d":183.6,"m":23.72},{"d":184.6,"m":24.0},{"d":185.6,"m":23.35},{"d":186.6,"m":24.05},{"d":187.6,"m":22.7},{"d":188.6,"m":23.2},{"d":189.6,"m":23.9},{"d":190.6,"m":22.55},{"d":191.6,"m":24.12},{"d":192.6,"m":23.4},{"d":193.6,"m":24.45},{"d":194.6,"m":23.0},{"d":195.6,"m":23.72},{"d":196.6,"m":24.0},{"d":197.6,"m":23.35},{"d":198.6,"m":24.05},{"d":199.6,"m":22.7},{"d":200.6,"m":23.8},{"d":201.6,"m":24.38},{"d":202.6,"m":23.1},{"d":203.6,"m":23.65},{"d":204.6,"m":24.22},{"d":205.6,"m":22.95},{"d":206.6,"m":23.5},{"d":207.6,"m":24.3},{"d":208.6,"m":23.2},{"d":209.6,"m":23.9},{"d":210.6,"m":22.55},{"d":211.6,"m":24.12},{"d":212.6,"m":23.4},{"d":213.6,"m":24.45},
{"d":140.5,"m":23.9},{"d":141.8,"m":24.3},{"d":143.6,"m":22.9},{"d":145.2,"m":23.2},{"d":146.8,"m":22.7},{"d":148.5,"m":23.4},{"d":147.2,"m":22.4},{"d":144.4,"m":24.45},{"d":142.7,"m":24.2},{"d":152,"m":22.3},{"d":157,"m":22.1},{"d":163,"m":21.9},{"d":168,"m":22.4},{"d":174,"m":22.2},{"d":179,"m":21.8},{"d":185,"m":22.5},{"d":190,"m":22.0},{"d":196,"m":22.35},{"d":201,"m":21.95},{"d":207,"m":22.25},{"d":212,"m":22.45},{"d":160,"m":22.7},{"d":171,"m":22.65},{"d":182,"m":22.8},{"d":193,"m":22.7},{"d":204,"m":22.85},{"d":213,"m":22.6},{"d":155,"m":21.7},{"d":188,"m":21.6}]
},
"vconcat":[
{"width":922,"height":472,
"layer":[
{"data":{"name":"a_blue"},"mark":{"type":"point","shape":"square","filled":true,"size":6,"color":"#0000ff","opacity":1,"clip":true},
"encoding":{"x":{"field":"d","type":"quantitative","scale":{"domain":[-29.7,214.7],"nice":false,"zero":false},"axis":null},
"y":{"field":"m","type":"quantitative","scale":{"domain":[19.3,24.31],"reverse":true,"nice":false,"zero":false},"axis":{"orient":"left","values":[20,21,22,23,24],"tickSize":-11,"labelPadding":19,"title":"Kepler Magnitude","titlePadding":8}}}},
{"data":{"name":"a_red"},"mark":{"type":"point","shape":"circle","filled":true,"size":195,"fill":"#f52a00","stroke":"#6b1500","strokeWidth":0.8,"opacity":1,"clip":true},
"encoding":{"x":{"field":"d","type":"quantitative","scale":{"domain":[-29.7,214.7],"nice":false,"zero":false},"axis":null},
"y":{"field":"m","type":"quantitative","scale":{"domain":[19.3,24.31],"reverse":true,"nice":false,"zero":false},"axis":{"orient":"right","values":[20,21,22,23,24],"tickSize":-11,"labels":false,"title":null,"minExtent":0}}}},
{"data":{"name":"a_teal"},"mark":{"type":"line","color":"#3cc8c8","strokeWidth":1.8,"clip":true},
"encoding":{"x":{"field":"d","type":"quantitative","axis":null},"y":{"field":"m","type":"quantitative","axis":null},"order":{"field":"d","type":"quantitative"}}},
{"data":{"name":"a_teal"},"mark":{"type":"point","shape":"circle","filled":true,"size":85,"fill":"#1cb5b5","stroke":"#0f5555","strokeWidth":0.8,"opacity":1,"clip":true},
"encoding":{"x":{"field":"d","type":"quantitative","axis":null},"y":{"field":"m","type":"quantitative","axis":null}}},
{"data":{"name":"a_lab"},"mark":{"type":"text","align":"left","baseline":"alphabetic","fontSize":49,"color":"black"},
"encoding":{"x":{"field":"d","type":"quantitative","axis":null},"y":{"field":"m","type":"quantitative","axis":null},"text":{"field":"t"}}},
{"data":{"name":"a_sn"},"mark":{"type":"text","align":"left","baseline":"alphabetic","fontSize":33,"color":"#17c0c0"},
"encoding":{"x":{"field":"d","type":"quantitative","axis":null},"y":{"field":"m","type":"quantitative","axis":null},"text":{"field":"t"}}}
],
"resolve":{"axis":{"x":"independent","y":"independent"}}},
{"width":922,"height":468,
"layer":[
{"data":{"name":"d_blue"},"mark":{"type":"point","shape":"square","filled":true,"size":6,"color":"#0000ff","opacity":1,"clip":true},
"encoding":{"x":{"field":"d","type":"quantitative","scale":{"domain":[-29.7,214.7],"nice":false,"zero":false},"axis":{"orient":"bottom","values":[0,50,100,150,200],"tickSize":-11,"labelPadding":16,"title":"Rest Frame Days Since Explosion","titlePadding":6}},
"y":{"field":"m","type":"quantitative","scale":{"domain":[19.81,24.48],"reverse":true,"nice":false,"zero":false},"axis":{"orient":"left","values":[20,21,22,23,24],"tickSize":-11,"labelPadding":19,"title":"Kepler Magnitude","titlePadding":8}}}},
{"data":{"name":"d_red"},"mark":{"type":"point","shape":"circle","filled":true,"size":195,"fill":"#f52a00","stroke":"#6b1500","strokeWidth":0.8,"opacity":1,"clip":true},
"encoding":{"x":{"field":"d","type":"quantitative","scale":{"domain":[-29.7,214.7],"nice":false,"zero":false},"axis":{"orient":"top","values":[0,50,100,150,200],"tickSize":-11,"labels":false,"title":null,"minExtent":0}},
"y":{"field":"m","type":"quantitative","scale":{"domain":[19.81,24.48],"reverse":true,"nice":false,"zero":false},"axis":{"orient":"right","values":[20,21,22,23,24],"tickSize":-11,"labels":false,"title":null,"minExtent":0}}}},
{"data":{"name":"d_teal"},"mark":{"type":"line","color":"#3cc8c8","strokeWidth":1.8,"clip":true},
"encoding":{"x":{"field":"d","type":"quantitative","axis":null},"y":{"field":"m","type":"quantitative","axis":null},"order":{"field":"d","type":"quantitative"}}},
{"data":{"name":"d_teal"},"mark":{"type":"point","shape":"circle","filled":true,"size":85,"fill":"#1cb5b5","stroke":"#0f5555","strokeWidth":0.8,"opacity":1,"clip":true},
"encoding":{"x":{"field":"d","type":"quantitative","axis":null},"y":{"field":"m","type":"quantitative","axis":null}}},
{"data":{"name":"d_lab"},"mark":{"type":"text","align":"left","baseline":"alphabetic","fontSize":49,"color":"black"},
"encoding":{"x":{"field":"d","type":"quantitative","axis":null},"y":{"field":"m","type":"quantitative","axis":null},"text":{"field":"t"}}},
{"data":{"name":"d_sn"},"mark":{"type":"text","align":"left","baseline":"alphabetic","fontSize":33,"color":"#17c0c0"},
"encoding":{"x":{"field":"d","type":"quantitative","axis":null},"y":{"field":"m","type":"quantitative","axis":null},"text":{"field":"t"}}}
],
"resolve":{"axis":{"x":"independent","y":"independent"}}}
]
}
